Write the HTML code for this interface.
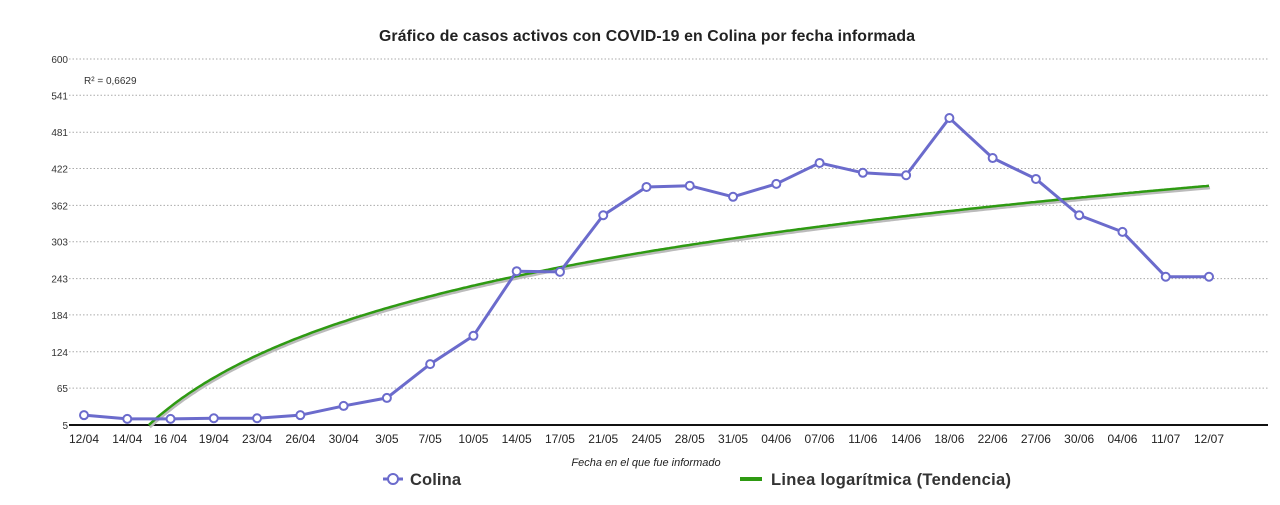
<!DOCTYPE html>
<html><head><meta charset="utf-8"><style>
body{margin:0;background:#fff;font-family:"Liberation Sans",sans-serif;}
svg text{font-family:"Liberation Sans",sans-serif;}
</style></head><body>
<svg id="chart" width="1280" height="500">
<text x="647" y="41" text-anchor="middle" font-size="15.8" font-weight="bold" fill="#222" textLength="536">Gráfico de casos activos con COVID-19 en Colina por fecha informada</text>
<text x="84" y="84" font-size="10" fill="#333">R² = 0,6629</text>
<g id="grid"></g><g id="xaxis"></g><g id="trend"></g><g id="series"></g>
<text x="646" y="466" text-anchor="middle" font-size="11" font-style="italic" fill="#222">Fecha en el que fue informado</text>
<g>
<line x1="383" y1="479" x2="403" y2="479" stroke="#6b6bcc" stroke-width="3"/>
<circle cx="393" cy="479" r="5" fill="#fff" stroke="#6b6bcc" stroke-width="2"/>
<text x="410" y="485" font-size="16.5" font-weight="bold" fill="#333" textLength="51">Colina</text></g>
<g>
<line x1="740" y1="479" x2="762" y2="479" stroke="#2e9a12" stroke-width="4"/>
<text x="771" y="485" font-size="16.5" font-weight="bold" fill="#333" textLength="240">Linea logarítmica (Tendencia)</text></g>
</svg>
<script>
const categories=["12/04","14/04","16 /04","19/04","23/04","26/04","30/04","3/05","7/05","10/05","14/05","17/05","21/05","24/05","28/05","31/05","04/06","07/06","11/06","14/06","18/06","22/06","27/06","30/06","04/06","11/07","12/07"];
const colinaValues=[21,15,15,16,16,21,36,49,104,150,255,254,346,392,394,376,397,431,415,411,504,439,405,346,319,246,246];
const yTicks=[5,65,124,184,243,303,362,422,481,541,600];
const trendCoef=[-144.7,163.4];
const NS="http://www.w3.org/2000/svg";
const X0=84,X1=1209,Y0=425,Y1=59,YMIN=5,YMAX=600;
const xs=i=>X0+i*(X1-X0)/(categories.length-1);
const ys=v=>Y0-(v-YMIN)/(YMAX-YMIN)*(Y0-Y1);
function mk(tag,attrs,parent){const e=document.createElementNS(NS,tag);for(const k in attrs)e.setAttribute(k,attrs[k]);document.getElementById(parent).appendChild(e);return e;}
yTicks.forEach(t=>{
 if(t!==YMIN){const l=mk('line',{x1:X0-15,x2:1268,y1:ys(t),y2:ys(t),stroke:'#aaa','stroke-dasharray':'1.5,2'},'grid');
 
 }
 const tx=mk('text',{x:X0-16,y:ys(t)+4,'font-size':10,fill:'#333','text-anchor':'end'},'grid');tx.textContent=t;
 
 
});
const ax=mk('line',{x1:X0-15,x2:1268,y1:Y0,y2:Y0,stroke:'#111','stroke-width':2},'xaxis');


categories.forEach((c,i)=>{const t=mk('text',{x:xs(i),y:443,'font-size':12,fill:'#222','text-anchor':'middle'},'xaxis');t.textContent=c;
 
 });
let tp=[];
for(let k=0;k<=400;k++){const xi=k/400*(categories.length-1);const v=trendCoef[0]+trendCoef[1]*Math.log(xi+1);
 if(v<YMIN-3)continue;tp.push(xs(xi).toFixed(1)+','+ys(v).toFixed(1));}
const sh=mk('polyline',{points:tp.join(' '),fill:'none',stroke:'#bbb','stroke-width':3,transform:'translate(1,2)'},'trend');


const tl=mk('polyline',{points:tp.join(' '),fill:'none',stroke:'#2e9a12','stroke-width':2.5},'trend');


const pl=mk('polyline',{points:colinaValues.map((v,i)=>xs(i)+','+ys(v)).join(' '),fill:'none',stroke:'#6b6bcc','stroke-width':3},'series');


colinaValues.forEach((v,i)=>{const c=mk('circle',{cx:xs(i),cy:ys(v),r:4,fill:'#fff',stroke:'#6b6bcc','stroke-width':2},'series');
 
 });
</script>
</body></html>
